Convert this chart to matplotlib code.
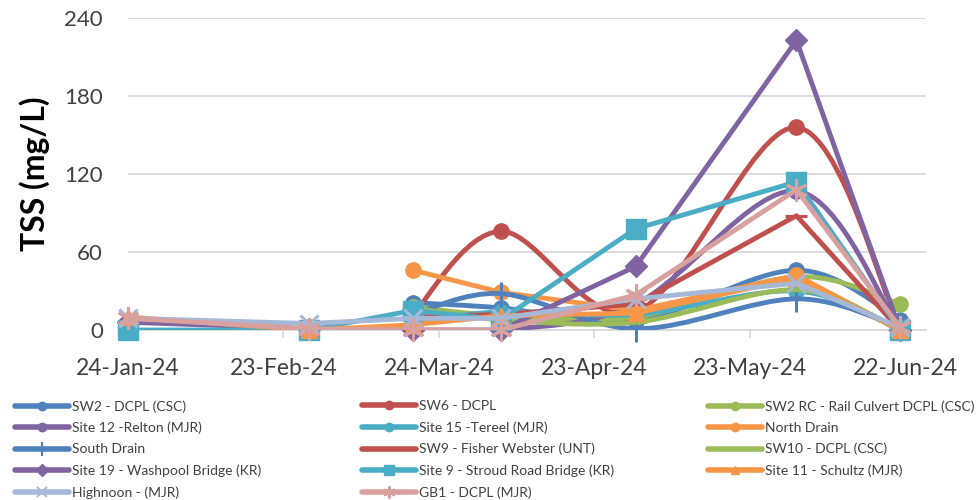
import matplotlib
matplotlib.use("Agg")
import matplotlib.pyplot as plt
import matplotlib.dates as mdates
import numpy as np
from matplotlib.path import Path
from matplotlib.patches import PathPatch
from matplotlib.lines import Line2D
import datetime as dt

plt.rcParams['font.family'] = ['Lato', 'DejaVu Sans']

# ---------------- data ----------------
sample_dates = ['2024-01-24', '2024-02-28', '2024-03-19', '2024-04-05',
                '2024-05-01', '2024-06-01', '2024-06-21']
nan = np.nan

series_names = [
    'SW2 - DCPL (CSC)', 'SW6 - DCPL', 'SW2 RC - Rail Culvert DCPL (CSC)',
    'Site 12 -Relton (MJR)', 'Site 15 -Tereel (MJR)', 'North Drain',
    'South Drain', 'SW9 - Fisher Webster (UNT)', 'SW10 - DCPL (CSC)',
    'Site 19 - Washpool Bridge (KR)', 'Site 9 - Stroud Road Bridge (KR)',
    'Site 11 - Schultz (MJR)', 'Highnoon - (MJR)', 'GB1 - DCPL (MJR)'
]

sw2 =        [nan, nan, 21, 17, 7, 46, 8]
sw6 =        [nan, nan, 12, 76, 14, 156, 0]
sw2_rc =     [nan, nan, 18, 11, 10, 41, 20]
site12 =     [nan, nan, 0, 0, 20, 107, 0]
site15 =     [nan, nan, 6, 14, 12, 30, 0]
north_drain = [nan, nan, 46, 29, 15, 42, 0]
south_drain = [nan, nan, 12, 28, 1, 24, 2]
sw9 =        [nan, nan, 10, 12, 20, 88, 0]
sw10 =       [nan, nan, 17, 8, 6, 31, 0]
site19 =     [6, 1, 0, 0, 49, 223, 0]
site9 =      [0, 0, 15, 8, 78, 114, 0]
site11 =     [10, 0, 4, 11, 13, 40, 0]
highnoon =   [9, 5, 9, 9, 24, 36, 2]
gb1 =        [9, 1, 0, 0, 27, 108, 2]

series_values = [sw2, sw6, sw2_rc, site12, site15, north_drain, south_drain,
                 sw9, sw10, site19, site9, site11, highnoon, gb1]

y_ticks = [0, 60, 120, 180, 240]
x_tick_dates = ['2024-01-24', '2024-02-23', '2024-03-24', '2024-04-23',
                '2024-05-23', '2024-06-22']

# ---------------- styles ----------------
BLUE, RED, GREEN, PURPLE, AQUA, ORANGE = '#4F81BD', '#C0504D', '#9BBB59', '#8064A2', '#4BACC6', '#F79646'
LBLUE, PINK = '#A5B8D8', '#D8A09E'
ASTER = (6, 2, 0)
styles = [
    dict(color=BLUE, marker='o', ms=11, smooth=True),
    dict(color=RED, marker='o', ms=11, smooth=True),
    dict(color=GREEN, marker='o', ms=11, smooth=True),
    dict(color=PURPLE, marker='o', ms=11, smooth=True),
    dict(color=AQUA, marker='o', ms=11, smooth=True),
    dict(color=ORANGE, marker='o', ms=11, smooth=False),
    dict(color=BLUE, marker='|', ms=18, smooth=True),
    dict(color=RED, marker='_', ms=16, smooth=False),
    dict(color=GREEN, marker='_', ms=16, smooth=True),
    dict(color=PURPLE, marker='D', ms=11, smooth=False),
    dict(color=AQUA, marker='s', ms=14, smooth=False),
    dict(color=ORANGE, marker='^', ms=11, smooth=False),
    dict(color=LBLUE, marker='x', ms=13, smooth=False),
    dict(color=PINK, marker=ASTER, ms=16, smooth=False),
]
LW = 3.5

fig = plt.figure(figsize=(9.78, 5.0), dpi=100)
ax = fig.add_axes([128/978, 1-330/500, (926-128)/978, (330-18.3)/500])

xnum = mdates.date2num([dt.datetime.strptime(d, '%Y-%m-%d') for d in sample_dates])


def smooth_path(xs, ys):
    pts = np.column_stack([xs, ys])
    n = len(pts)
    verts = [pts[0]]
    codes = [Path.MOVETO]
    for i in range(n - 1):
        p0 = pts[i - 1] if i > 0 else pts[i]
        p1 = pts[i]
        p2 = pts[i + 1]
        p3 = pts[i + 2] if i + 2 < n else pts[i + 1]
        c1 = p1 + (p2 - p0) / 6.0
        c2 = p2 - (p3 - p1) / 6.0
        verts += [c1, c2, p2]
        codes += [Path.CURVE4] * 3
    return Path(verts, codes)


handles = []
for k, (name, vals, st) in enumerate(zip(series_names, series_values, styles)):
    v = np.array(vals, dtype=float)
    m = ~np.isnan(v)
    xs, ys = xnum[m], v[m]
    z = 3 + k
    if st['smooth']:
        patch = PathPatch(smooth_path(xs, ys), fill=False, edgecolor=st['color'],
                          lw=LW, zorder=z, capstyle='round', joinstyle='round')
        ax.add_patch(patch)
    else:
        ax.plot(xs, ys, color=st['color'], lw=LW, zorder=z,
                solid_capstyle='round', solid_joinstyle='round')
    thin = st['marker'] in ('|', '_', 'x', ASTER)
    ax.plot(xs, ys, linestyle='none', marker=st['marker'], ms=st['ms'],
            color=st['color'], mec=st['color'], mew=(2.2 if thin else 1.0),
            zorder=z + 0.5, clip_on=False)
    lm = st['ms'] * 0.55
    handles.append(Line2D([], [], color=st['color'], lw=4, marker=st['marker'],
                          ms=lm, mew=(1.5 if thin else 1.0), solid_capstyle='round'))

# axes formatting
x0 = mdates.date2num(dt.datetime(2024, 1, 24))
ax.set_xlim(x0, x0 + 154)
ax.set_ylim(0, 240)
ax.set_yticks(y_ticks)
xt = mdates.date2num([dt.datetime.strptime(d, '%Y-%m-%d') for d in x_tick_dates])
ax.set_xticks(xt)
ax.xaxis.set_major_formatter(mdates.DateFormatter('%d-%b-%y'))
for s in ['top', 'right', 'left']:
    ax.spines[s].set_visible(False)
ax.spines['bottom'].set_color('#D9D9D9')
ax.spines['bottom'].set_linewidth(1.3)
ax.grid(axis='y', color='#D9D9D9', lw=1.3, zorder=0)
ax.set_axisbelow(True)
ax.tick_params(axis='y', length=0, pad=18, labelsize=16, labelcolor='#404040')
ax.tick_params(axis='x', length=6, width=1.3, color='#D9D9D9', pad=14,
               labelsize=16.5, labelcolor='#404040')
ax.set_ylabel('TSS (mg/L)', fontsize=23, fontweight='bold', color='black', labelpad=10)

# legend: three columns, row-major order like Excel
col_x = [15/978, 362/978, 708/978]
for c in range(3):
    idx = list(range(c, 14, 3))
    leg = fig.legend([handles[i] for i in idx], [series_names[i] for i in idx],
                     loc='upper left', bbox_to_anchor=(col_x[c], 1 - 400/500),
                     frameon=False, fontsize=10, handlelength=3.9, handletextpad=0.2,
                     labelspacing=0.66, borderaxespad=0, borderpad=0,
                     labelcolor='#404040')

fig.savefig('out.png', dpi=100)
